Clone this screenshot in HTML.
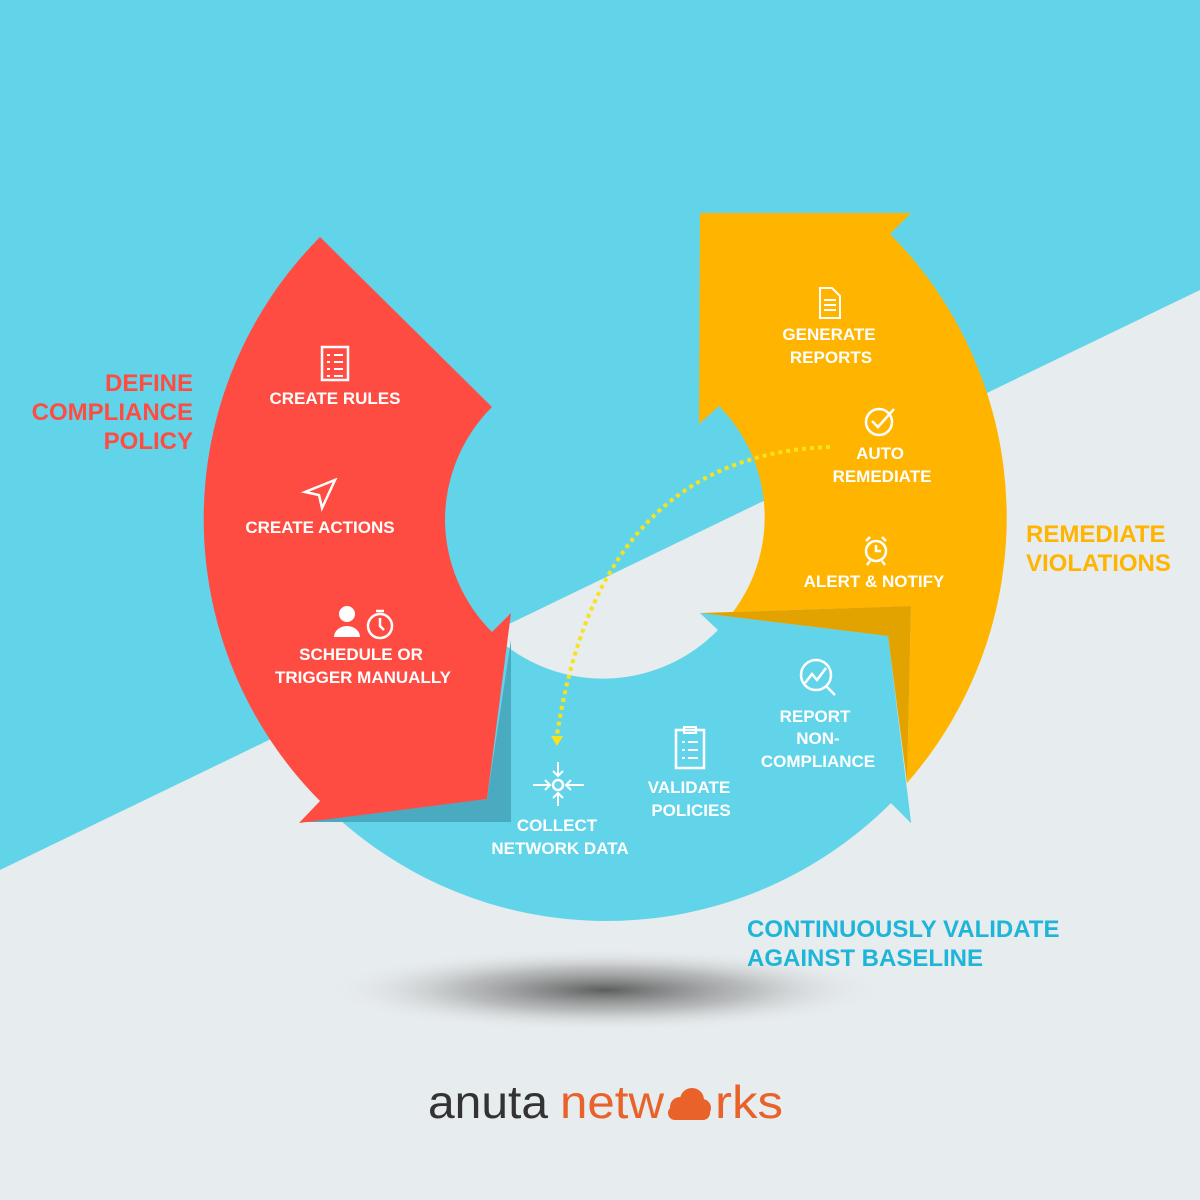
<!DOCTYPE html>
<html><head><meta charset="utf-8"><style>
html,body{margin:0;padding:0;width:1200px;height:1200px;overflow:hidden;background:#62d4ea}
svg{display:block}
.t{font-family:"Liberation Sans",sans-serif;font-weight:bold;fill:#fff;font-size:17px;text-anchor:middle}
.s{font-family:"Liberation Sans",sans-serif;font-weight:bold;font-size:24px}
</style></head><body>
<svg width="1200" height="1200" viewBox="0 0 1200 1200" xmlns="http://www.w3.org/2000/svg">
<defs>
<radialGradient id="sh" cx="50%" cy="50%" r="50%">
<stop offset="0" stop-color="#555" stop-opacity="0.95"/>
<stop offset="0.5" stop-color="#888" stop-opacity="0.5"/>
<stop offset="1" stop-color="#e7ecee" stop-opacity="0"/>
</radialGradient>
</defs>
<rect width="1200" height="1200" fill="#62d4ea"/>
<polygon points="0,870 1200,290 1200,1200 0,1200" fill="#e7ecee"/>
<ellipse cx="605" cy="990" rx="280" ry="42" fill="url(#sh)"/>

<path d="M700,613 L888,636 L911,823 L891,803 A402 402 0 0 1 320,801 L487,799 L505,645 A160 160 0 0 0 718,630 Z" fill="#62d4ea"/>
<polygon points="511,640 511,822 300,822 487,799" fill="#4aaabf"/>
<path d="M700,213 L911,213 L890,234 A403 403 0 0 1 907,783 L911,606 L733,612 A158 158 0 0 0 719,406 L699,424 Z" fill="#ffb400"/>
<polygon points="733,612 911,606 907,783 888,636 700,613" fill="#e2a300"/>
<path d="M700,613 L888,636 L907,790 L911,823 L891,803 A402 402 0 0 1 800,860 L718,630 Z" fill="#62d4ea"/>
<path d="M320,237 L492,407 A160 160 0 0 0 445,520 A160 160 0 0 0 492,632 L511,613 L487,799 L299,823 L320,801 A400 400 0 0 1 320,237 Z" fill="#ff4c42"/>

<path d="M830,447 Q600,455 557,735" fill="none" stroke="#f7e21c" stroke-width="4" stroke-dasharray="4 4"/>
<polygon points="551,736 563,736 557,746" fill="#f7e21c"/>

<g fill="none" stroke="#fff" stroke-width="2.5">
<rect x="322" y="347" width="26" height="33"/>
<path d="M327,355h3M334,355h9M327,362h3M334,362h9M327,369h3M334,369h9M327,376h3M334,376h9" stroke-width="2"/>
<path d="M305,492 L335,480 L322,508 L319,495 Z"/>
<circle cx="380" cy="626" r="12"/><path d="M380,618v8l4,4M376,611h8"/>
<path d="M820,288 h12 l8,8 v22 h-20 z M824,300h12M824,305h12M824,310h12" stroke-width="2"/>
<circle cx="879" cy="422" r="13"/><path d="M872,421l6,6 l16,-18"/>
<circle cx="876" cy="551" r="10"/><path d="M876,545v6h5M866,541l4,-4M886,541l-4,-4M870,561l-3,4M882,561l3,4"/>
<circle cx="816" cy="675" r="15"/><path d="M805,683l7,-9 5,6 9,-12M827,687l8,8"/>
<rect x="676" y="730" width="28" height="38"/><path d="M684,727h12v6h-12zM682,742h3M688,742h10M682,750h3M688,750h10M682,758h3M688,758h10" stroke-width="2"/>
<circle cx="558" cy="785" r="5"/>
<path d="M558,762v14M553,771l5,5 5,-5M558,806v-13M553,798l5,-5 5,5M533,785h17M545,780l5,5 -5,5M584,785h-18M571,780l-5,5 5,5" stroke-width="2"/>
</g>
<circle cx="347" cy="614" r="8" fill="#fff"/><path d="M334,637 a13,11 0 0 1 26,0 z" fill="#fff"/>

<text class="t" x="335" y="404">CREATE RULES</text>
<text class="t" x="320" y="533">CREATE ACTIONS</text>
<text class="t" x="361" y="660">SCHEDULE OR</text>
<text class="t" x="363" y="683">TRIGGER MANUALLY</text>
<text class="t" x="829" y="340">GENERATE</text>
<text class="t" x="831" y="363">REPORTS</text>
<text class="t" x="880" y="459">AUTO</text>
<text class="t" x="882" y="482">REMEDIATE</text>
<text class="t" x="874" y="587">ALERT &amp; NOTIFY</text>
<text class="t" x="815" y="722">REPORT</text>
<text class="t" x="818" y="744">NON-</text>
<text class="t" x="818" y="767">COMPLIANCE</text>
<text class="t" x="689" y="793">VALIDATE</text>
<text class="t" x="691" y="816">POLICIES</text>
<text class="t" x="557" y="831">COLLECT</text>
<text class="t" x="560" y="854">NETWORK DATA</text>

<g class="s" fill="#ff4c42" text-anchor="end">
<text x="193" y="391">DEFINE</text><text x="193" y="420">COMPLIANCE</text><text x="193" y="449">POLICY</text>
</g>
<g class="s" fill="#ffb400">
<text x="1026" y="542">REMEDIATE</text><text x="1026" y="571">VIOLATIONS</text>
</g>
<g class="s" fill="#1fb5d8">
<text x="747" y="937">CONTINUOUSLY VALIDATE</text><text x="747" y="966">AGAINST BASELINE</text>
</g>

<text x="428" y="1118" font-family="'Liberation Sans',sans-serif" font-size="46" fill="#333" textLength="120" lengthAdjust="spacingAndGlyphs">anuta</text>
<text x="560" y="1118" font-family="'Liberation Sans',sans-serif" font-size="46" fill="#e8622a" textLength="104" lengthAdjust="spacingAndGlyphs">netw</text>
<g fill="#e8622a">
<circle cx="680" cy="1107" r="10"/><circle cx="692" cy="1100" r="12"/><circle cx="702" cy="1108" r="9"/>
<rect x="668" y="1106" width="42" height="14" rx="7"/>
</g>
<text x="715" y="1118" font-family="'Liberation Sans',sans-serif" font-size="46" fill="#e8622a" textLength="68" lengthAdjust="spacingAndGlyphs">rks</text>
</svg>
</body></html>
